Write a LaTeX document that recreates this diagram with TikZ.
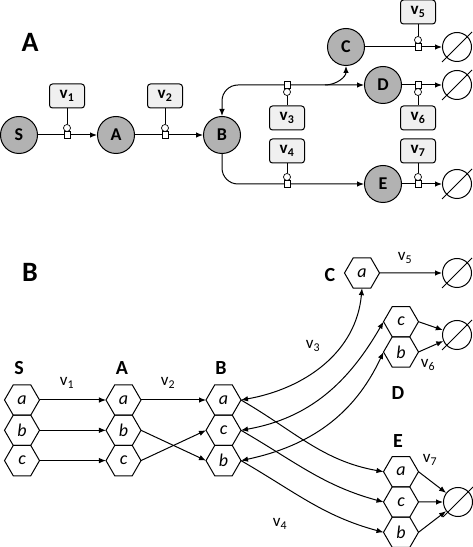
\documentclass[tikz,border=0pt]{standalone}
\usepackage{fontspec}
\setmainfont{Carlito}
\usetikzlibrary{arrows.meta,shapes.geometric}

\begin{document}
\begin{tikzpicture}[x=1pt,y=1pt,>={Latex[length=7pt,width=5.5pt]},line width=1pt,
    species/.style={circle,draw,fill=black!30,minimum size=37pt,inner sep=0pt,font=\fontsize{18}{18}\selectfont\bfseries},
    rate/.style={draw,rounded corners=3pt,fill=black!6,minimum width=35pt,minimum height=24pt,inner sep=0pt,font=\fontsize{17}{17}\selectfont\bfseries},
    modsq/.style={draw,fill=white,minimum width=6pt,minimum height=7pt,inner sep=0pt,line width=0.7pt},
    modci/.style={circle,draw,fill=white,minimum size=7pt,inner sep=0pt,line width=0.7pt},
    sink/.style={circle,draw,minimum size=29pt,inner sep=0pt},
    hex/.style={regular polygon,regular polygon sides=6,draw,minimum size=35pt,inner sep=0pt,outer sep=0pt,font=\fontsize{18}{18}\selectfont\itshape},
    panel/.style={font=\fontsize{28}{28}\selectfont\bfseries},
    pool/.style={font=\fontsize{20}{20}\selectfont\bfseries},
    flux/.style={font=\fontsize{17}{17}\selectfont}]
    \useasboundingbox (0,0) rectangle (473,547);

    \node[panel] (lA) at (30,505) {A};
    \node[species] (S) at (19,412) {S};
    \node[species] (A) at (116,412) {A};
    \node[species] (B) at (222,412) {B};
    \node[species] (C) at (346,500) {C};
    \node[species] (D) at (383,462) {D};
    \node[species] (E) at (383,363) {E};
    \node[sink] (n5) at (457,500) {};
    \node[sink] (n6) at (457,462) {};
    \node[sink] (n7) at (457,363) {};
    \coordinate (br) at (325,462);
    \draw[->] (S) -- (A);
    \draw[->] (A) -- (B);
    \draw[<->,rounded corners=16pt] (B.north) |- (D.west);
    \draw[->] (br) to[out=0,in=-90] (C.south);
    \draw[->,rounded corners=16pt] (B.south) |- (E.west);
    \draw[->] (C) -- (n5);
    \draw[->] (D) -- (n6);
    \draw[->] (E) -- (n7);
    \foreach \i/\x/\y/\o/\v in {1/67/412/419/451, 2/165/412/419/451, 3/287/462/455/429, 4/287/363/370/396,
        5/418/500/507/535, 6/418/462/455/429, 7/418/363/370/396} {
        \node[modsq] (q\i) at (\x,\y) {};
        \node[modci] (o\i) at (\x,\o) {};
        \node[rate] (v\i) at (\x,\v) {v\textsubscript{\i}};
        \draw (o\i) -- (v\i);
    }

    \node[panel] (lB) at (30,275) {B};
    \node[pool] (tS) at (19,179) {S};
    \node[pool] (tA) at (122,179) {A};
    \node[pool] (tB) at (221,179) {B};
    \node[pool] (tC) at (330,272) {C};
    \node[pool] (tD) at (398,154) {D};
    \node[pool] (tE) at (398,106) {E};
    \foreach \c/\x in {S/22,A/123.5}
        \foreach \s/\y in {a/147,b/116.7,c/86.4}
            \node[hex] (\c\s) at (\x,\y) {\s};
    \foreach \s/\y in {a/147,c/116.7,b/86.4}
        \node[hex] (B\s) at (223.5,\y) {\s};
    \node[hex] (Ca) at (362,274) {a};
    \node[hex] (Dc) at (401,225.3) {c};
    \node[hex] (Db) at (401,195) {b};
    \foreach \s/\y in {a/75.3,c/45,b/14.7}
        \node[hex] (E\s) at (401,\y) {\s};
    \node[sink] (mC) at (457,274) {};
    \node[sink] (mD) at (457,212) {};
    \node[sink] (mE) at (458,45) {};
    \foreach \s in {a,b,c}
        \draw[->] (S\s.east) -- (A\s.west);
    \draw[->] (Aa.east) -- (Ba.west);
    \draw[->] (Ab.east) -- (Bb.west);
    \draw[->] (Ac.east) -- (Bc.west);
    \draw[<->] (Ba.east) to[out=10,in=-95] (Ca.south);
    \draw[<->] (Bc.east) to[out=10,in=-120] (Dc.west);
    \draw[<->] (Bb.east) to[out=12,in=-115] (Db.west);
    \draw[->] (Ba.east) to[out=-30,in=170] (Ea.west);
    \draw[->] (Bc.east) to[out=-30,in=165] (Ec.west);
    \draw[->] (Bb.east) to[out=-30,in=165] (Eb.west);
    \draw[->] (Ca.east) -- (mC);
    \draw[->] (Dc.east) -- (mD);
    \draw[->] (Db.east) -- (mD);
    \draw[->] (Ea.east) -- (mE);
    \draw[->] (Ec.east) -- (mE);
    \draw[->] (Eb.east) -- (mE);
    \foreach \n in {n5,n6,n7,mC,mD,mE}
        \draw ([xshift=-15pt,yshift=-15pt]\n.center) -- ([xshift=15pt,yshift=15pt]\n.center);
    \node[flux] (f1) at (67,164) {v\textsubscript{1}};
    \node[flux] (f2) at (168,164) {v\textsubscript{2}};
    \node[flux] (f3) at (313,201) {v\textsubscript{3}};
    \node[flux] (f4) at (280,23) {v\textsubscript{4}};
    \node[flux] (f5) at (405,289) {v\textsubscript{5}};
    \node[flux] (f6) at (428,182) {v\textsubscript{6}};
    \node[flux] (f7) at (430,87) {v\textsubscript{7}};
\end{tikzpicture}
\end{document}
